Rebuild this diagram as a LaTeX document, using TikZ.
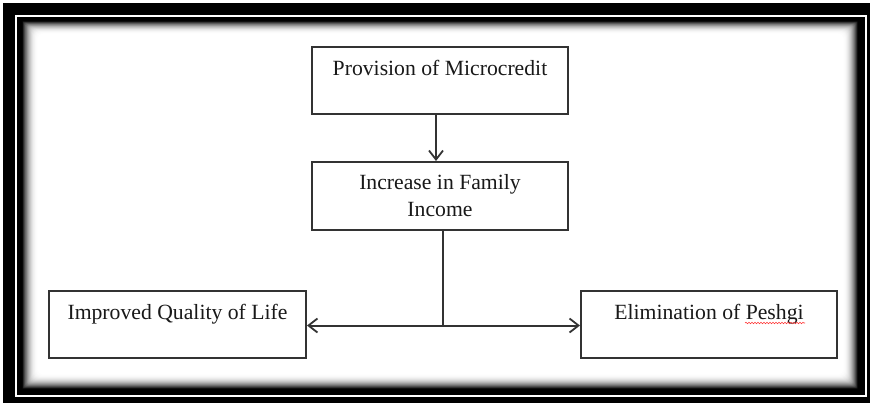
\documentclass[tikz,border=0pt]{standalone}
\usepackage{fontspec}
\setmainfont{Liberation Serif}
\usetikzlibrary{arrows.meta,decorations.pathmorphing}
\begin{document}
\begin{tikzpicture}[x=1pt,y=-1pt,
  box/.style={draw=black!80, line width=2pt, fill=white, minimum width=256pt, minimum height=67pt, inner sep=0pt,
    font=\fontsize{21.7}{27}\selectfont, text=black!90, align=center},
  topbox/.style={box, text height=14pt, text depth=24pt},
  conn/.style={draw=black!80, line width=2pt},
  arr/.style={conn, -{Straight Barb[length=9pt,width=14pt,line width=1.8pt]}}]
\useasboundingbox[fill=white] (0,0) rectangle (872,405);
% frame
\fill[black] (3,3) rectangle (870,403);
\draw[white, line width=2.2pt] (16,16) rectangle (866,396);
\foreach \k in {0,...,30}{
  \pgfmathsetmacro\t{\k/30}
  \pgfmathsetmacro\c{100*(1-\t)^2.2}
  \fill[black!\c!white, rounded corners=6*\t] (22+16*\t,21+13*\t) rectangle (858-15*\t,389-15*\t);
}
% boxes
\node[topbox] (prov) at (440,80) {Provision of Microcredit};
\node[box, minimum height=68pt] (inc) at (440,196) {Increase in Family\\Income};
\node[topbox, minimum width=257pt] (qol) at (177.5,324) {Improved Quality of Life};
\node[topbox, minimum width=256pt] (elim) at (709,324.5) {Elimination of Peshgi};
% spell-check underline
\draw[red!80, line width=0.6pt, decorate, decoration={snake, amplitude=0.7pt, segment length=3pt}] (745,323) -- (805,323);
% connectors
\coordinate (a) at (436,0);
\coordinate (j) at (442.5,325.5);
\draw[arr] (prov.south -| a) -- (inc.north -| a);
\draw[conn] (inc.south -| j) -- (j);
\draw[arr] (j) -- (qol.east |- j);
\draw[arr] (j) -- (elim.west |- j);
\end{tikzpicture}
\end{document}
